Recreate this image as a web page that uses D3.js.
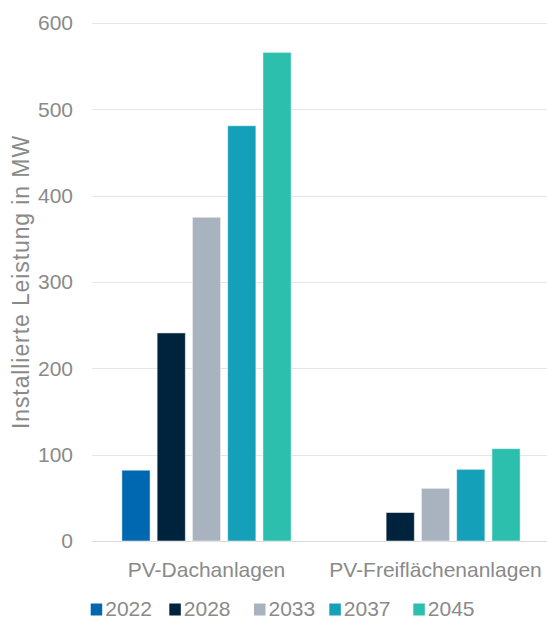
<!DOCTYPE html>
<html>
<head>
<meta charset="utf-8">
<script src="https://cdn.jsdelivr.net/npm/d3@7"></script>
<style>
  html, body { margin: 0; padding: 0; background: #fff; }
  svg { display: block; font-family: "Liberation Sans", Arial, sans-serif; }
</style>
</head>
<body>
<svg id="chart" width="547" height="618"></svg>
<script>
// Installed PV capacity (MW) by category and target year
const categories = ["PV-Dachanlagen", "PV-Freiflächenanlagen"];
const years = ["2022", "2028", "2033", "2037", "2045"];
const valuesDach = [82, 241, 375, 481, 566];
const valuesFrei = [0, 33, 61, 83, 107];
const yTicks = [0, 100, 200, 300, 400, 500, 600];
const colors = ["#0068b1", "#00233d", "#a8b3bf", "#13a0b8", "#2cbfae"];

const seriesByCategory = [valuesDach, valuesFrei];

const svg = d3.select("#chart");
const margin = { left: 92, right: -3, top: 23, bottom: 77 };
const width = 547, height = 618;

const x0 = d3.scaleBand()
  .domain(categories)
  .range([margin.left, width - margin.right])
  .paddingInner(0.23)
  .paddingOuter(0.115);

const x1 = d3.scaleBand()
  .domain(years)
  .range([0, x0.bandwidth()])
  .paddingInner(0.2)
  .paddingOuter(0.1);

const y = d3.scaleLinear()
  .domain([0, 600])
  .range([height - margin.bottom, margin.top]);

const color = d3.scaleOrdinal().domain(years).range(colors);

const textColor = "#8a8a8a";
const fontFamily = "Liberation Sans, Arial, sans-serif";

// gridlines
svg.append("g")
  .selectAll("line")
  .data(yTicks)
  .join("line")
  .attr("x1", margin.left)
  .attr("x2", width)
  .attr("y1", d => Math.round(y(d)) + 0.5)
  .attr("y2", d => Math.round(y(d)) + 0.5)
  .attr("stroke", d => d === 0 ? "#d9d9d9" : "#e6e6e6")
  .attr("stroke-width", 1.2);

// y axis labels
const yAxis = d3.axisLeft(y).tickValues(yTicks).tickSize(0).tickPadding(19);
svg.append("g")
  .attr("transform", `translate(${margin.left},0)`)
  .call(yAxis)
  .call(g => g.select(".domain").remove())
  .call(g => g.selectAll("text")
    .attr("fill", textColor)
    .attr("font-size", 21)
    .attr("font-family", fontFamily));

// y axis title
svg.append("text")
  .attr("transform", `translate(28.5,282) rotate(-90)`)
  .attr("text-anchor", "middle")
  .attr("fill", textColor)
  .attr("font-size", 23)
  .attr("letter-spacing", 0.9)
  .attr("font-family", fontFamily)
  .text("Installierte Leistung in MW");

// bars
const groups = svg.append("g")
  .selectAll("g")
  .data(categories.map((c, i) => ({ category: c, values: seriesByCategory[i] })))
  .join("g")
  .attr("transform", d => `translate(${x0(d.category)},0)`);

groups.selectAll("rect")
  .data(d => years.map((yr, j) => ({ year: yr, value: d.values[j] })).filter(v => v.value > 0))
  .join("rect")
  .attr("x", d => x1(d.year))
  .attr("width", x1.bandwidth())
  .attr("y", d => y(d.value))
  .attr("height", d => y(0) - y(d.value))
  .attr("fill", d => color(d.year))
  .attr("stroke", "#ffffff")
  .attr("stroke-opacity", 0.5)
  .attr("stroke-width", 1);

// category labels
const xAxis = d3.axisBottom(x0).tickSize(0).tickPadding(21);
svg.append("g")
  .attr("transform", `translate(0,${y(0)})`)
  .call(xAxis)
  .call(g => g.select(".domain").remove())
  .call(g => g.selectAll("text")
    .attr("fill", textColor)
    .attr("font-size", 21)
    .attr("font-family", fontFamily));

// legend
const legendOffsets = [0, 78.6, 163.3, 238.6, 322.6];
const legend = svg.append("g").attr("transform", "translate(90.7,603.5)");
const legendItems = legend.selectAll("g")
  .data(years)
  .join("g")
  .attr("transform", (d, i) => `translate(${legendOffsets[i]},0)`);
legendItems.append("rect")
  .attr("width", 11.5)
  .attr("height", 12)
  .attr("fill", d => color(d));
legendItems.append("text")
  .attr("x", 14.5)
  .attr("y", 12.5)
  .attr("fill", textColor)
  .attr("font-size", 21)
  .attr("font-family", fontFamily)
  .text(d => d);
</script>
</body>
</html>
